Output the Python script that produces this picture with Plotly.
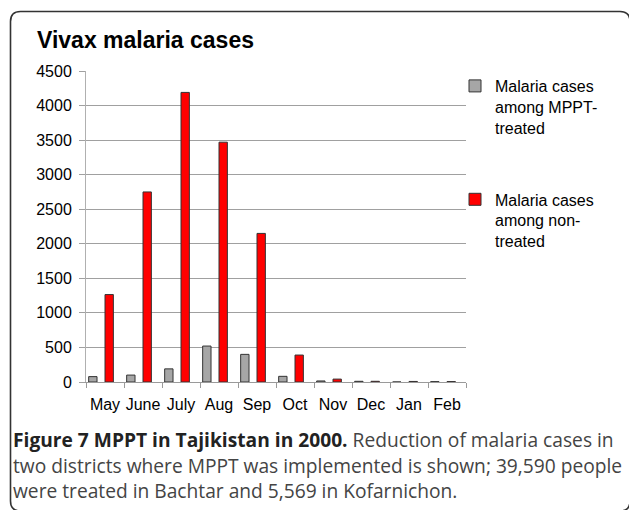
import plotly.graph_objects as go

months = ["May", "June", "July", "Aug", "Sep", "Oct", "Nov", "Dec", "Jan", "Feb"]
mppt_treated = [78, 100, 190, 520, 400, 82, 15, 10, 0, 5]
non_treated = [1265, 2750, 4190, 3470, 2150, 390, 42, 10, 8, 6]
y_ticks = [0, 500, 1000, 1500, 2000, 2500, 3000, 3500, 4000, 4500]

W, H = 629, 510
ML, MR, MT, MB = 86, 163, 71, 128
PW, PH = W - ML - MR, H - MT - MB


def px_x(p):
    return (p - ML) / PW


def px_y(p):
    return (H - MB - p) / PH


fig = go.Figure()
fig.add_trace(go.Bar(
    x=months, y=mppt_treated,
    name="Malaria cases<br>among MPPT-<br>treated",
    marker=dict(color="#a6a6a6", line=dict(color="#333333", width=1)),
    width=0.22, offset=-0.43, legendgroup="a",
))
fig.add_trace(go.Bar(
    x=months, y=non_treated,
    name="Malaria cases<br>among non-<br>treated",
    marker=dict(color="#ff0000", line=dict(color="#333333", width=1)),
    width=0.22, offset=0.0, legendgroup="b",
))

# rounded frame
x0, x1, y0, y1, r = 10.5, 630, 11.5, 511, 10
pts = [
    ("M", [(x0 + r, y0)]), ("L", [(x1 - r, y0)]), ("Q", [(x1, y0), (x1, y0 + r)]),
    ("L", [(x1, y1 - r)]), ("Q", [(x1, y1), (x1 - r, y1)]), ("L", [(x0 + r, y1)]),
    ("Q", [(x0, y1), (x0, y1 - r)]), ("L", [(x0, y0 + r)]), ("Q", [(x0, y0), (x0 + r, y0)]),
]
path = " ".join(c + " " + " ".join(f"{px_x(a):.5f},{px_y(b):.5f}" for a, b in ps) for c, ps in pts) + " Z"
fig.add_shape(type="path", path=path, xref="paper", yref="paper",
              line=dict(color="#333333", width=1.6))

fig.add_annotation(text="<b>Vivax malaria cases</b>", xref="paper", yref="paper",
                   x=px_x(35), y=px_y(40), xanchor="left", yanchor="middle",
                   showarrow=False, font=dict(family="Liberation Sans", size=23, color="#000000"))

cap_font = dict(family="Open Sans", size=19.2, color="#444444")
cap_lines = [
    "<span style='color:#222222'><b>Figure 7 MPPT in Tajikistan in 2000.</b></span> Reduction of malaria cases in",
    "two districts where MPPT was implemented is shown; 39,590 people",
    "were treated in Bachtar and 5,569 in Kofarnichon.",
]
for i, line in enumerate(cap_lines):
    fig.add_annotation(text=line, xref="paper", yref="paper",
                       x=px_x(11), y=px_y(439.5 + 25.5 * i), xanchor="left", yanchor="middle",
                       showarrow=False, font=cap_font)

fig.update_layout(
    width=W, height=H,
    margin=dict(l=ML, r=MR, t=MT, b=MB, pad=0),
    paper_bgcolor="white", plot_bgcolor="white",
    barmode="overlay",
    font=dict(family="Liberation Sans", size=16, color="#000000"),
    showlegend=True,
    legend=dict(x=px_x(455), y=px_y(69), xanchor="left", yanchor="top",
                bgcolor="rgba(0,0,0,0)", font=dict(size=16), valign="top",
                traceorder="grouped", tracegroupgap=48),
    xaxis=dict(type="category", showline=True, linecolor="#9a9a9a", linewidth=1,
               ticks="outside", ticklen=5, tickcolor="#9a9a9a", tickson="boundaries",
               showgrid=False, range=[-0.5, 9.5], tickangle=0, ticklabelstandoff=8,
               tickfont=dict(size=16)),
    yaxis=dict(range=[0, 4500], tickvals=y_ticks, showgrid=True, gridcolor="#a0a0a0",
               gridwidth=1, showline=True, linecolor="#b0b0b0", linewidth=1,
               ticks="outside", ticklen=6, tickcolor="#a0a0a0",
               ticklabelstandoff=4, tickfont=dict(size=16), zeroline=False),
)

fig.write_html("out.html")
